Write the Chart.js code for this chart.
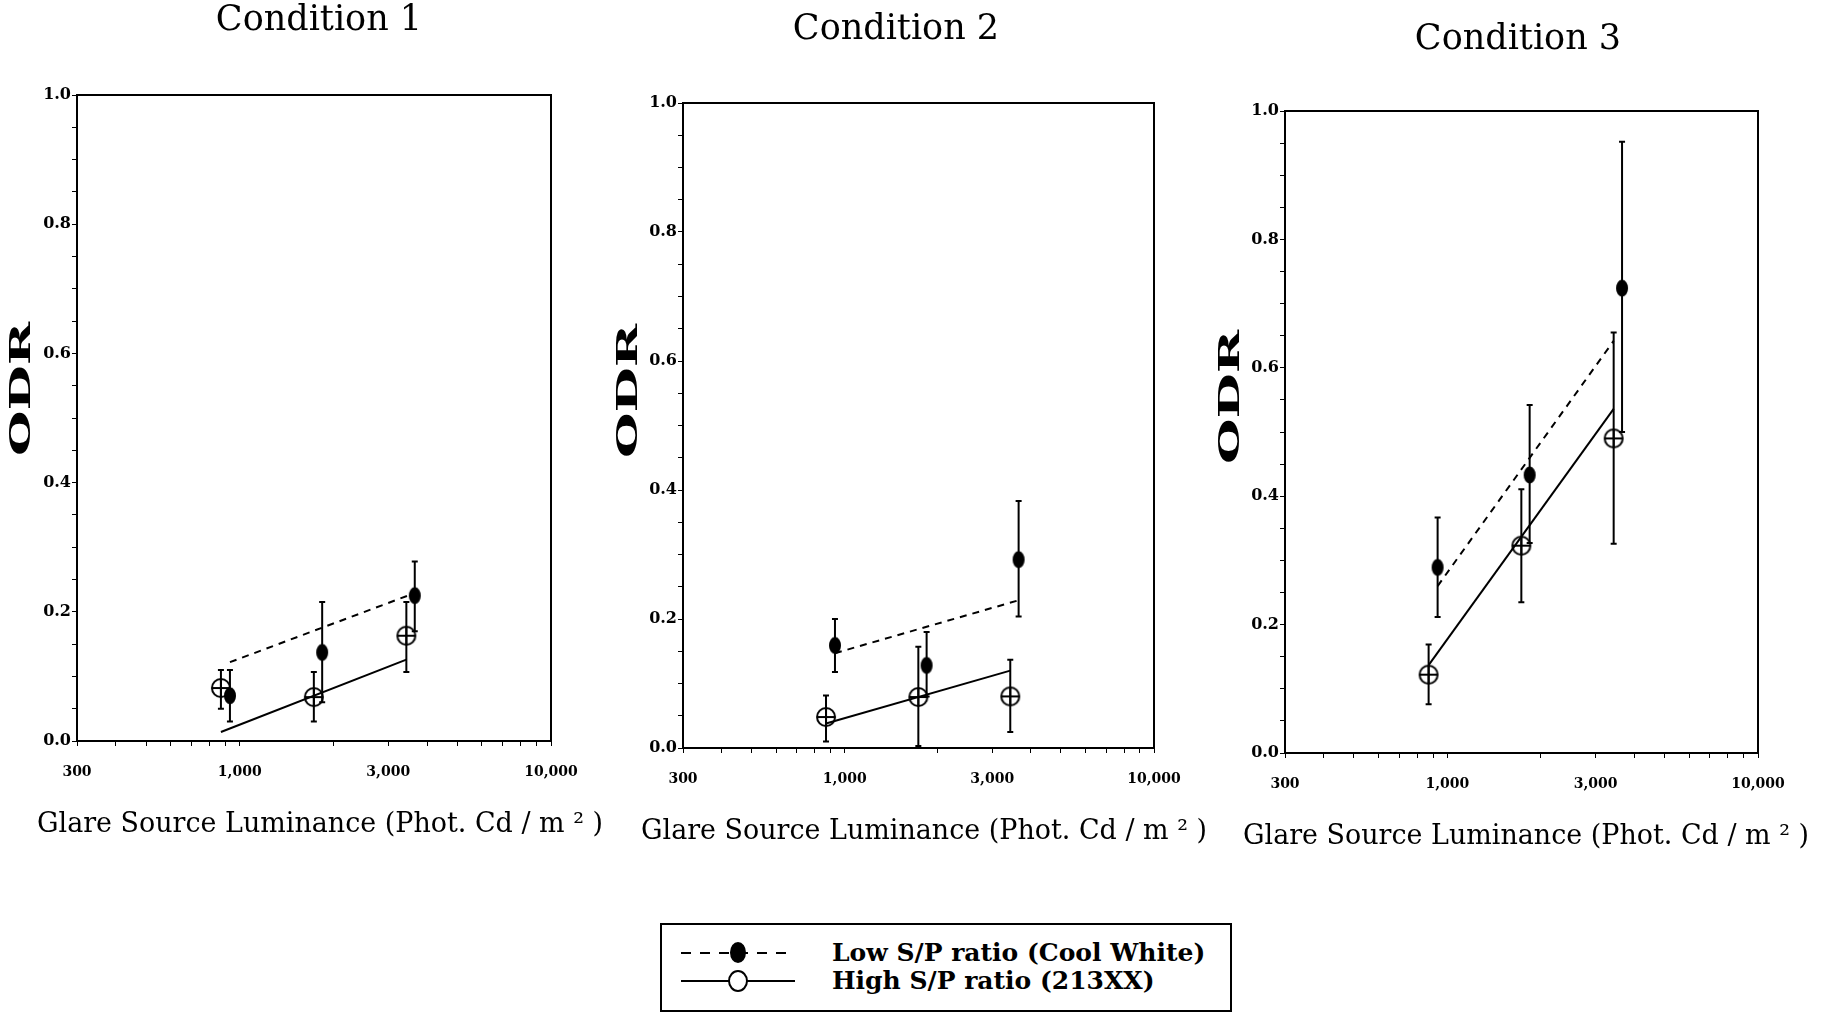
<!DOCTYPE html>
<html>
<head>
<meta charset="utf-8">
<title>ODR vs Glare Source Luminance</title>
<script src="https://cdn.jsdelivr.net/npm/chart.js@4.4.1/dist/chart.umd.min.js"></script>
<style>
  html, body { margin: 0; padding: 0; background: #fff; width: 1832px; height: 1017px; overflow: hidden; }
  .panel { position: absolute; top: 0; }
  .legend {
    position: absolute; left: 660px; top: 923px; width: 572px; height: 89px;
    box-sizing: border-box; border: 2px solid #000;
    font: bold 25px "DejaVu Serif"; color: #000;
  }
  .legend .row { position: absolute; left: 0; height: 26px; width: 100%; }
  .legend .row span.label { position: absolute; left: 170px; top: 0; line-height: 26px; white-space: nowrap; }
  .legend .line { position: absolute; left: 19px; top: 12px; width: 114px; height: 2px; }
  .legend .dashed { background: repeating-linear-gradient(90deg, #000 0 10px, transparent 10px 19px); }
  .legend .solid { background: #000; }
  .legend .dot { position: absolute; left: 68px; top: 2px; width: 16px; height: 21px; border-radius: 50%; background: #000; }
  .legend .ring { position: absolute; left: 66px; top: 2px; width: 20px; height: 22px; box-sizing: border-box; border-radius: 50%; border: 2px solid #000; background: #fff; }
</style>
</head>
<body>
<div class="panel" id="p0"><canvas id="chart0"></canvas></div>
<div class="panel" id="p1"><canvas id="chart1"></canvas></div>
<div class="panel" id="p2"><canvas id="chart2"></canvas></div>

<div class="legend">
  <div class="row" style="top:15px"><div class="line dashed"></div><div class="dot"></div><span class="label">Low S/P ratio (Cool White)</span></div>
  <div class="row" style="top:43px"><div class="line solid"></div><div class="ring"></div><span class="label">High S/P ratio (213XX)</span></div>
</div>

<script>
// ---- data ----
const conditions = ["Condition 1", "Condition 2", "Condition 3"];

// glare luminance (cd/m2) of the two lamp types at each level
const lumLow = [930, 1840, 3650];
const lumHigh = [870, 1730, 3430];

// Low S/P ratio (Cool White): mean ODR and error bar ends per condition
const lowMean = [[0.07, 0.137, 0.225], [0.159, 0.128, 0.292], [0.289, 0.433, 0.724]];
const lowErrLo = [[0.03, 0.06, 0.17], [0.118, 0.08, 0.204], [0.212, 0.327, 0.5]];
const lowErrHi = [[0.11, 0.215, 0.278], [0.2, 0.18, 0.383], [0.367, 0.542, 0.952]];

// High S/P ratio (213XX)
const highMean = [[0.082, 0.068, 0.163], [0.048, 0.079, 0.08], [0.122, 0.323, 0.49]];
const highErrLo = [[0.05, 0.03, 0.107], [0.01, 0.003, 0.025], [0.076, 0.235, 0.326]];
const highErrHi = [[0.11, 0.107, 0.215], [0.0815, 0.157, 0.137], [0.169, 0.411, 0.655]];

// fitted lines: x end points and ODR end points
const lowFitX = [[930, 3650], [930, 3650], [930, 3430]];
const lowFitY = [[0.122, 0.229], [0.147, 0.229], [0.26, 0.642]];
const highFitX = [[870, 3430], [870, 3430], [870, 3430]];
const highFitY = [[0.014, 0.126], [0.038, 0.12], [0.137, 0.536]];

// axis ticks
const xTicks = [300, 400, 500, 600, 700, 800, 900, 1000, 2000, 3000, 4000, 5000, 6000, 7000, 8000, 9000, 10000];
const xLabelValues = [300, 1000, 3000, 10000];
const xLabelText = ["300", "1,000", "3,000", "10,000"];
const yTicks = [0, 0.05, 0.1, 0.15, 0.2, 0.25, 0.3, 0.35, 0.4, 0.45, 0.5, 0.55, 0.6, 0.65, 0.7, 0.75, 0.8, 0.85, 0.9, 0.95, 1.0];
const yLabelValues = [0, 0.2, 0.4, 0.6, 0.8, 1.0];
const xTitle = "Glare Source Luminance (Phot. Cd / m ² )";

// ---- page layout of the three panels (pixels) ----
const panelLayout = [
  { left: 0, width: 638, chartTop: 95, chartBottom: 741, yWidth: 77, rightGap: 87, titleTop: 0, odrX: 23, odrY: 389, xTitleX: 320 },
  { left: 560, width: 672, chartTop: 103, chartBottom: 748, yWidth: 123, rightGap: 78, titleTop: 9, odrX: 70, odrY: 391, xTitleX: 364 },
  { left: 1204, width: 628, chartTop: 111, chartBottom: 753, yWidth: 81, rightGap: 74, titleTop: 19, odrX: 28, odrY: 397, xTitleX: 322 },
];
const xAxisHeight = 110;
const titleSize = 35;

Chart.defaults.font.family = '"DejaVu Serif", serif';
Chart.defaults.color = "#000";

// marker images
function makeMarker(kind) {
  const c = document.createElement("canvas");
  c.width = 24;
  c.height = 24;
  const g = c.getContext("2d");
  g.strokeStyle = "#000";
  g.fillStyle = "#000";
  g.lineWidth = 2;
  if (kind === "filled") {
    g.beginPath();
    g.ellipse(12, 12, 6, 8.5, 0, 0, Math.PI * 2);
    g.fill();
  } else {
    g.beginPath();
    g.arc(12, 12, 9, 0, Math.PI * 2);
    g.stroke();
    g.beginPath();
    g.moveTo(3, 12);
    g.lineTo(21, 12);
    g.moveTo(12, 3);
    g.lineTo(12, 21);
    g.stroke();
  }
  return c;
}
const filledDot = makeMarker("filled");
const openCross = makeMarker("open");

// box around the plot
const framePlugin = {
  id: "frame",
  beforeDatasetsDraw(chart) {
    const { ctx, chartArea: a } = chart;
    ctx.save();
    ctx.strokeStyle = "#000";
    ctx.lineWidth = 2;
    ctx.strokeRect(a.left, a.top, a.right - a.left, a.bottom - a.top);
    ctx.restore();
  },
};

// vertical error bars with small caps
const errorBarPlugin = {
  id: "errorBars",
  beforeDatasetsDraw(chart) {
    const { ctx, scales: { x, y } } = chart;
    ctx.save();
    ctx.strokeStyle = "#000";
    ctx.lineWidth = 2;
    chart.data.datasets.forEach((ds) => {
      if (!ds.errLo) return;
      ds.data.forEach((pt, i) => {
        const px = x.getPixelForValue(pt.x);
        const top = y.getPixelForValue(ds.errHi[i]);
        const bot = y.getPixelForValue(ds.errLo[i]);
        ctx.beginPath();
        ctx.moveTo(px, top);
        ctx.lineTo(px, bot);
        ctx.moveTo(px - 3, top);
        ctx.lineTo(px + 3, top);
        ctx.moveTo(px - 3, bot);
        ctx.lineTo(px + 3, bot);
        ctx.stroke();
      });
    });
    ctx.restore();
  },
};

// axis titles: stretched rotated "ODR" and the wide x title (wider than the plot)
const axisTitlePlugin = {
  id: "axisTitles",
  afterDraw(chart, args, opts) {
    const { ctx } = chart;
    ctx.save();
    ctx.fillStyle = "#000";
    ctx.textAlign = "center";
    ctx.textBaseline = "middle";

    ctx.font = 'bold 28px "DejaVu Serif"';
    const w = ctx.measureText("ODR").width;
    ctx.save();
    ctx.translate(opts.odrX, opts.odrY);
    ctx.rotate(-Math.PI / 2);
    ctx.scale(opts.odrLength / w, 1);
    ctx.fillText("ODR", 0, 0);
    ctx.restore();

    ctx.font = '27px "DejaVu Serif"';
    const tw = ctx.measureText(opts.xText).width;
    ctx.translate(opts.xTitleX, chart.chartArea.bottom + opts.xTitleGap);
    ctx.scale(opts.xTitleWidth / tw, 1);
    ctx.fillText(opts.xText, 0, 0);
    ctx.restore();
  },
};

function points(xs, ys) {
  return xs.map((x, i) => ({ x, y: ys[i] }));
}

function buildChart(k) {
  const L = panelLayout[k];
  const wrap = document.getElementById("p" + k);
  wrap.style.left = L.left + "px";
  const canvas = document.getElementById("chart" + k);
  canvas.width = L.width;
  canvas.height = L.chartBottom + xAxisHeight;

  new Chart(canvas.getContext("2d"), {
    type: "scatter",
    data: {
      datasets: [
        {
          label: "Low S/P ratio (Cool White)",
          data: points(lumLow, lowMean[k]),
          errLo: lowErrLo[k],
          errHi: lowErrHi[k],
          pointStyle: filledDot,
          yAxisID: "y",
        },
        {
          label: "High S/P ratio (213XX)",
          data: points(lumHigh, highMean[k]),
          errLo: highErrLo[k],
          errHi: highErrHi[k],
          pointStyle: openCross,
          yAxisID: "y",
        },
        {
          label: "Low fit",
          data: points(lowFitX[k], lowFitY[k]),
          showLine: true,
          borderColor: "#000",
          borderWidth: 2,
          borderDash: [7, 6],
          pointRadius: 0,
          yAxisID: "y",
        },
        {
          label: "High fit",
          data: points(highFitX[k], highFitY[k]),
          showLine: true,
          borderColor: "#000",
          borderWidth: 2,
          pointRadius: 0,
          yAxisID: "y",
        },
      ],
    },
    options: {
      responsive: false,
      animation: false,
      events: [],
      layout: { padding: 0 },
      plugins: {
        legend: { display: false },
        tooltip: { enabled: false },
        title: {
          display: true,
          text: conditions[k],
          color: "#000",
          font: { size: titleSize, weight: "normal", lineHeight: 1.2 },
          padding: { top: L.titleTop, bottom: L.chartTop - L.titleTop - titleSize * 1.2 },
        },
        axisTitles: {
          odrX: L.odrX,
          odrY: L.odrY,
          odrLength: 134,
          xText: xTitle,
          xTitleX: L.xTitleX,
          xTitleGap: 84,
          xTitleWidth: 566,
        },
      },
      scales: {
        x: {
          type: "logarithmic",
          min: 300,
          max: 10000,
          afterBuildTicks: (s) => {
            s.ticks = xTicks.map((value) => ({ value }));
          },
          afterFit: (s) => {
            s.height = xAxisHeight;
          },
          ticks: {
            autoSkip: false,
            maxRotation: 0,
            padding: 18,
            font: { size: 14, weight: "bold" },
            callback: (v) => {
              const i = xLabelValues.indexOf(v);
              return i >= 0 ? xLabelText[i] : "";
            },
          },
          grid: { drawOnChartArea: false, drawTicks: true, tickLength: 5, color: "#000" },
          border: { display: true, color: "#000", width: 2 },
        },
        y: {
          type: "linear",
          min: 0,
          max: 1,
          afterBuildTicks: (s) => {
            s.ticks = yTicks.map((value) => ({ value }));
          },
          afterFit: (s) => {
            s.width = L.yWidth;
          },
          ticks: {
            autoSkip: false,
            padding: 1,
            font: { size: 16, weight: "bold" },
            callback: (v) => (yLabelValues.some((t) => Math.abs(t - v) < 1e-6) ? v.toFixed(1) : ""),
          },
          grid: { drawOnChartArea: false, drawTicks: true, tickLength: 5, color: "#000" },
          border: { display: true, color: "#000", width: 2 },
        },
        // empty right-hand spacer so the title stays centred on the canvas
        pad: {
          type: "linear",
          position: "right",
          display: true,
          ticks: { display: false },
          grid: { display: false },
          border: { display: false },
          afterFit: (s) => {
            s.width = L.rightGap;
          },
        },
      },
    },
    plugins: [framePlugin, errorBarPlugin, axisTitlePlugin],
  });
}

document.addEventListener("DOMContentLoaded", () => {
  conditions.forEach((_, k) => buildChart(k));
});
</script>
</body>
</html>
